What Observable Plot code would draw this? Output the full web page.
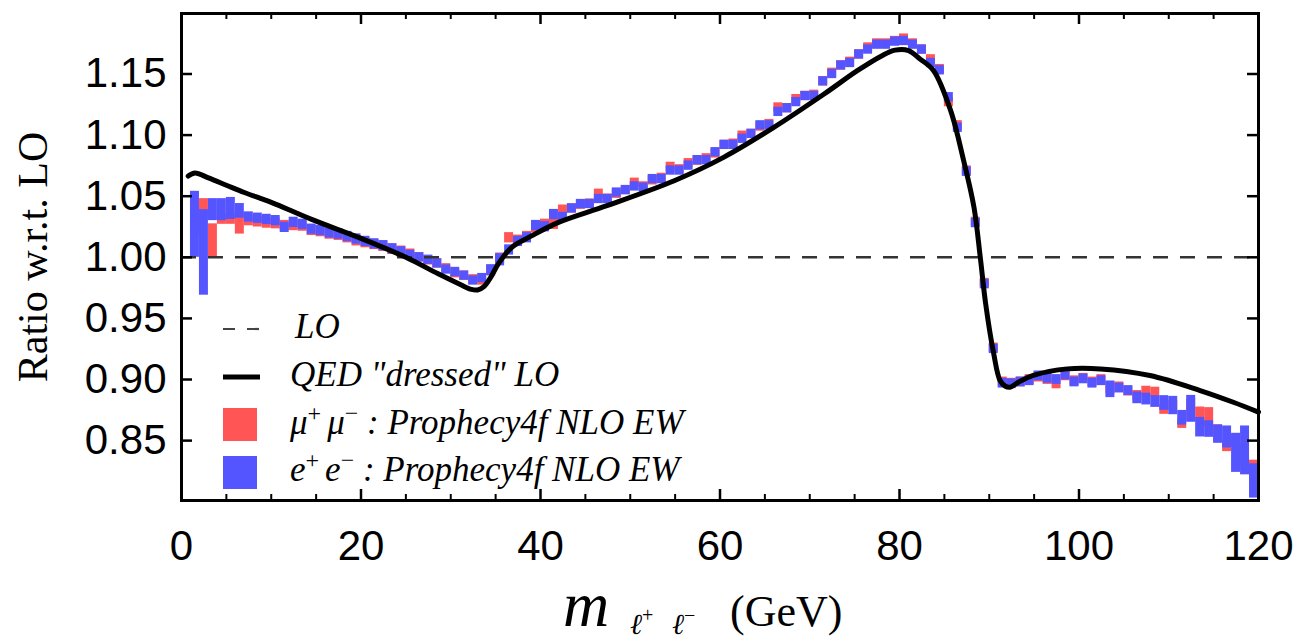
<!DOCTYPE html>
<html>
<head>
<meta charset="utf-8">
<script src="https://cdn.jsdelivr.net/npm/d3@7"></script>
<script src="https://cdn.jsdelivr.net/npm/@observablehq/plot@0.6"></script>
<style>
  html, body { margin: 0; padding: 0; background: white; }
  #chart svg { display: block; }
</style>
</head>
<body>
<div id="chart"></div>
<script>
// ---------- data ----------
// bins of 1 GeV, left edges 1..119
const binLeft = d3.range(1, 120);

const blueVal = [
1.027,1.004,1.039,1.039,1.040,1.038,1.033,1.032,1.031,1.030,
1.0245,1.0286,1.027,1.023,1.022,1.020,1.019,1.017,1.015,1.013,
1.011,1.0095,1.007,1.0045,1.002,1.000,0.998,0.995,0.990,0.988,
0.985,0.981,0.983,0.9895,0.998,1.006,1.013,1.016,1.026,1.025,
1.035,1.033,1.040,1.0436,1.0436,1.0477,1.0477,1.053,1.055,1.058,
1.057,1.064,1.064,1.071,1.071,1.075,1.0795,1.0795,1.086,1.092,
1.092,1.097,1.101,1.108,1.108,1.119,1.122,1.127,1.132,1.132,
1.144,1.150,1.157,1.159,1.166,1.170,1.174,1.174,1.1765,1.177,
1.174,1.170,1.159,1.153,1.131,1.106,1.070,1.028,0.978,0.925,
0.897,0.8965,0.898,0.899,0.903,0.901,0.900,0.9037,0.898,0.9005,
0.897,0.899,0.892,0.893,0.891,0.885,0.884,0.882,0.8808,0.8787,
0.8687,0.876,0.861,0.8595,0.8553,0.853,0.840,0.842,0.817
];
const blueErr = [
0.027,0.035,0.009,0.009,0.009,0.006,0.0042,0.0042,0.0042,0.0042,
0.0042,0.0042,0.0042,0.0042,0.0042,0.0042,0.0042,0.0042,0.0042,0.0042,
0.0042,0.0042,0.0042,0.0042,0.0038,0.0038,0.0038,0.0038,0.0038,0.0038,
0.0038,0.0038,0.0038,0.0045,0.005,0.0042,0.0042,0.0042,0.0042,0.0042,
0.0042,0.0038,0.0038,0.0038,0.0038,0.0038,0.0038,0.0038,0.0038,0.0038,
0.0038,0.0038,0.0038,0.0038,0.0038,0.0038,0.0038,0.0038,0.0038,0.0038,
0.0038,0.0038,0.0038,0.0038,0.0038,0.0038,0.0038,0.0038,0.0038,0.0038,
0.0038,0.0038,0.0038,0.0038,0.0038,0.0038,0.0038,0.0038,0.0038,0.0038,
0.0038,0.0038,0.0038,0.0038,0.0038,0.0038,0.0038,0.0038,0.0038,0.0038,
0.004,0.004,0.004,0.004,0.004,0.004,0.004,0.004,0.004,0.004,
0.004,0.004,0.0068,0.004,0.004,0.0048,0.0048,0.0048,0.006,0.0075,
0.006,0.011,0.008,0.0068,0.0075,0.009,0.016,0.020,0.014
];
const redVal = [
1.030,1.040,1.0137,1.031,1.031,1.028,1.030,1.029,1.028,1.0275,
1.026,1.026,1.0255,1.022,1.021,1.019,1.018,1.016,1.0135,1.012,
1.0105,1.009,1.0065,1.005,1.003,1.000,0.9975,0.995,0.991,0.987,
0.985,0.982,0.981,0.989,0.999,1.016,1.014,1.017,1.024,1.027,
1.027,1.039,1.040,1.043,1.044,1.052,1.048,1.052,1.055,1.061,
1.058,1.063,1.065,1.074,1.072,1.077,1.079,1.081,1.085,1.092,
1.093,1.0995,1.101,1.107,1.109,1.1226,1.122,1.1294,1.132,1.133,
1.144,1.151,1.157,1.160,1.166,1.1717,1.175,1.175,1.177,1.179,
1.175,1.170,1.162,1.154,1.127,1.108,1.071,1.029,0.979,0.926,
0.898,0.897,0.898,0.900,0.902,0.900,0.8964,0.903,0.899,0.901,
0.898,0.900,0.893,0.894,0.8905,0.887,0.8905,0.8897,0.8755,0.879,
0.864,0.875,0.8715,0.869,0.856,0.846,0.850,0.838,0.826
];
const redErr = [
0.012,0.008,0.0137,0.004,0.004,0.009,0.0042,0.0042,0.0042,0.0042,
0.0042,0.0042,0.0042,0.0042,0.0042,0.0042,0.0042,0.0042,0.0042,0.0042,
0.0042,0.0042,0.0042,0.0042,0.0038,0.0038,0.0038,0.0038,0.0038,0.0038,
0.0038,0.0038,0.0038,0.0042,0.0045,0.0042,0.0042,0.0042,0.0042,0.0042,
0.0042,0.0038,0.0038,0.0038,0.0038,0.0038,0.0038,0.0038,0.0038,0.0038,
0.0038,0.0038,0.0038,0.0038,0.0038,0.0038,0.0038,0.0038,0.0038,0.0038,
0.0038,0.0038,0.0038,0.0038,0.0038,0.0038,0.0038,0.0038,0.0038,0.0038,
0.0038,0.0038,0.0038,0.0038,0.0038,0.0038,0.0038,0.0038,0.0038,0.0038,
0.0038,0.0038,0.0038,0.0038,0.0038,0.0038,0.0038,0.0038,0.0038,0.0038,
0.004,0.004,0.004,0.004,0.004,0.004,0.004,0.004,0.004,0.004,
0.004,0.004,0.005,0.004,0.004,0.004,0.004,0.004,0.004,0.004,
0.004,0.009,0.006,0.008,0.007,0.005,0.005,0.010,0.008
];

// QED "dressed" LO curve
const curveM = [0.75,1.5,3,5,7,10,14.5,20,25,28.6,31,32.3,33,33.7,34.4,35.3,36.8,39,42,47.4,54.9,60.4,66,71.6,75.3,78,79.5,81,82.3,83.8,85.7,87.15,88.3,89,89.6,90.5,91.2,91.8,92.3,93.3,94.9,98.7,102.4,107.9,113.5,117.2,120];
const curveV = [1.0665,1.069,1.065,1.059,1.053,1.045,1.031,1.0155,1.000,0.9865,0.978,0.9737,0.9733,0.976,0.983,0.9946,1.0082,1.0175,1.0286,1.0423,1.0627,1.0818,1.1063,1.1336,1.1527,1.1648,1.1695,1.1692,1.1622,1.1527,1.12,1.079,1.0409,1.000,0.962,0.921,0.8992,0.8945,0.8937,0.898,0.9033,0.9087,0.9087,0.9033,0.891,0.8814,0.8733];

const xMajor = [0, 20, 40, 60, 80, 100, 120];
const xMinor = [5,10,15,25,30,35,45,50,55,65,70,75,85,90,95,105,110,115];
const yMajor = [0.85, 0.90, 0.95, 1.00, 1.05, 1.10, 1.15];

const colRed = "#ff5555", colBlue = "#5555ff";

// ---------- build ----------
const W = 1298, H = 643;
const mL = 181, mR = 40, mT = 13, mB = 143;
const xDom = [0, 120], yDom = [0.801, 1.1995];
const pxX = (xDom[1] - xDom[0]) / (W - mL - mR);
const pxY = (yDom[1] - yDom[0]) / (H - mT - mB);

const bins = (vals, errs) => binLeft.map((m, i) => ({x1: m, x2: m + 1, y1: vals[i] - errs[i], y2: vals[i] + errs[i]}));
const redBins = bins(redVal, redErr);
const blueBins = bins(blueVal, blueErr);
const curve = curveM.map((m, i) => ({m, v: curveV[i]}));

const majLen = 11, minLen = 6;
const plot = Plot.plot({
  width: W, height: H,
  marginLeft: mL, marginRight: mR, marginTop: mT, marginBottom: mB,
  x: {domain: xDom},
  y: {domain: yDom},
  style: {fontFamily: "'Liberation Sans', Arial, sans-serif", fontSize: "42px", background: "white", color: "black"},
  marks: [
    Plot.rect(redBins, {x1: "x1", x2: "x2", y1: "y1", y2: "y2", fill: colRed}),
    Plot.rect(blueBins, {x1: "x1", x2: "x2", y1: "y1", y2: "y2", fill: colBlue}),
    Plot.ruleY([1], {stroke: "#333", strokeWidth: 2.5, strokeDasharray: "15,12"}),
    Plot.line(curve, {x: "m", y: "v", stroke: "black", strokeWidth: 5, curve: "catmull-rom"}),
    // ticks (inward, mirrored)
    Plot.ruleX(xMajor, {x: d => d, y1: yDom[0], y2: yDom[0] + majLen * pxY, stroke: "black", strokeWidth: 2.5}),
    Plot.ruleX(xMinor, {x: d => d, y1: yDom[0], y2: yDom[0] + minLen * pxY, stroke: "black", strokeWidth: 2}),
    Plot.ruleX(xMajor, {x: d => d, y1: yDom[1], y2: yDom[1] - majLen * pxY, stroke: "black", strokeWidth: 2.5}),
    Plot.ruleX(xMinor, {x: d => d, y1: yDom[1], y2: yDom[1] - minLen * pxY, stroke: "black", strokeWidth: 2}),
    Plot.ruleY(yMajor, {y: d => d, x1: xDom[0], x2: xDom[0] + majLen * pxX, stroke: "black", strokeWidth: 2.5}),
    Plot.ruleY(yMajor, {y: d => d, x1: xDom[1], x2: xDom[1] - majLen * pxX, stroke: "black", strokeWidth: 2.5}),
    Plot.frame({stroke: "black", strokeWidth: 3}),
    Plot.axisX({ticks: xMajor, tickSize: 0, tickPadding: 30, label: null, tickFormat: d3.format("d")}),
    Plot.axisY({ticks: yMajor, tickSize: 0, tickPadding: 15, label: null, tickFormat: d3.format(".2f")})
  ]
});

const svg = d3.select(plot);
const serif = "'Liberation Serif', 'Times New Roman', serif";

// y-axis label
svg.append("text")
  .attr("transform", "translate(47,257) rotate(-90)")
  .attr("text-anchor", "middle")
  .attr("font-family", serif).attr("font-size", 42)
  .text("Ratio w.r.t. LO");

// x-axis label
const xl = svg.append("text").attr("font-family", serif).attr("text-anchor", "start").attr("y", 626);
xl.append("tspan").attr("x", 563).attr("font-style", "italic").attr("font-size", 64).text("m");
xl.append("tspan").attr("x", 630).attr("dy", 8).attr("font-style", "italic").attr("font-size", 29).text("\u2113");
xl.append("tspan").attr("font-size", 20).attr("dy", -12).text("+");
xl.append("tspan").attr("x", 672).attr("dy", 12).attr("font-style", "italic").attr("font-size", 29).text("\u2113");
xl.append("tspan").attr("font-size", 20).attr("dy", -12).text("\u2212");
xl.append("tspan").attr("x", 730).attr("dy", 4).attr("font-size", 44).text("(GeV)");

// legend
const lg = svg.append("g").attr("font-family", serif).attr("font-style", "italic").attr("font-size", 35).attr("text-anchor", "start");
lg.append("line").attr("x1", 223).attr("x2", 259).attr("y1", 329).attr("y2", 329)
  .attr("stroke", "#444").attr("stroke-width", 2.2).attr("stroke-dasharray", "12,12");
lg.append("text").attr("x", 295).attr("y", 338).text("LO");
lg.append("line").attr("x1", 223).attr("x2", 260).attr("y1", 377).attr("y2", 377)
  .attr("stroke", "black").attr("stroke-width", 5);
lg.append("text").attr("x", 290).attr("y", 386).text("QED \"dressed\" LO");
lg.append("rect").attr("x", 223).attr("y", 408).attr("width", 34).attr("height", 33).attr("fill", colRed);
lg.append("rect").attr("x", 223).attr("y", 456).attr("width", 34).attr("height", 33).attr("fill", colBlue);

function legendRow(y, sym) {
  const t = lg.append("text").attr("x", 290).attr("y", y);
  t.append("tspan").text(sym);
  t.append("tspan").attr("font-size", 24).attr("font-style", "normal").attr("dy", -13).text("+");
  t.append("tspan").attr("dx", 6).attr("dy", 13).text(sym);
  t.append("tspan").attr("font-size", 24).attr("font-style", "normal").attr("dy", -13).text("\u2212");
  t.append("tspan").attr("dy", 13).text(" : Prophecy4f NLO EW");
}
legendRow(434, "\u03bc");
legendRow(481, "e");

document.getElementById("chart").appendChild(plot);
</script>
</body>
</html>
